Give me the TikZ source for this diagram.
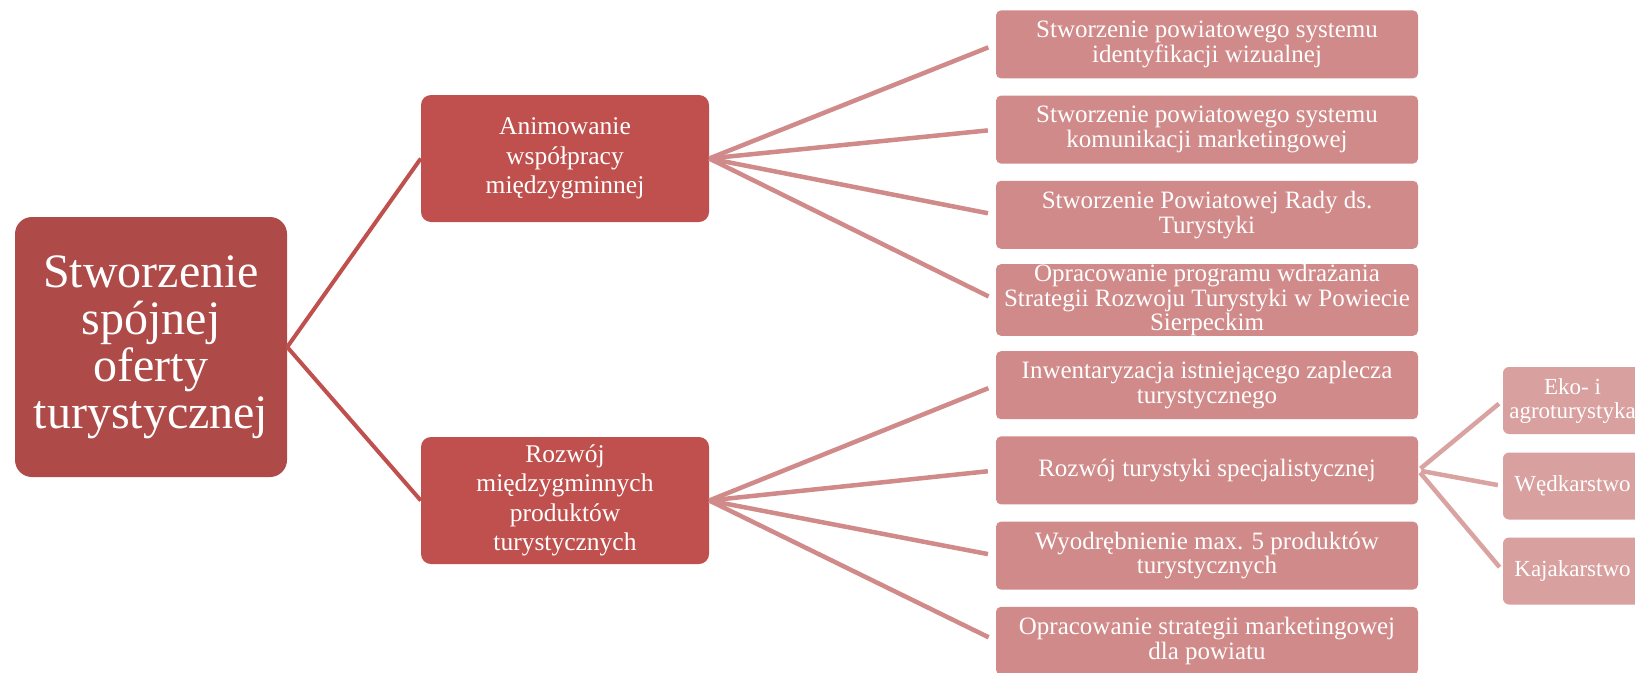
\documentclass[tikz,border=0pt]{standalone}
\usepackage{fontspec}
\setmainfont{Liberation Serif}
\definecolor{rootc}{HTML}{AE4A47}
\definecolor{lonec}{HTML}{C0504D}
\definecolor{ltwoc}{HTML}{D08A89}
\definecolor{lthreec}{HTML}{D8A09F}
\definecolor{edgeone}{HTML}{C0504D}
\definecolor{edgetwo}{HTML}{D08A89}
\definecolor{edgethree}{HTML}{D9A3A2}
\tikzset{
  rootbox/.style={fill=rootc, rounded corners=17pt, minimum width=272pt, minimum height=260pt, text=white, align=center, inner sep=0pt, font=\fontsize{48}{47}\selectfont},
  onebox/.style={fill=lonec, rounded corners=10pt, minimum width=288pt, minimum height=127pt, text=white, align=center, inner sep=0pt, font=\fontsize{25.5}{29.5}\selectfont},
  twobox/.style={fill=ltwoc, rounded corners=5pt, minimum width=422pt, minimum height=68pt, text=white, align=center, inner sep=0pt, font=\fontsize{25}{24.5}\selectfont},
  threebox/.style={fill=lthreec, rounded corners=6pt, minimum width=139pt, minimum height=67pt, text=white, align=center, inner sep=0pt, font=\fontsize{23}{24}\selectfont},
  edgea/.style={draw=edgeone, line width=4pt},
  edgeb/.style={draw=edgetwo, line width=4.5pt, shorten >=8pt},
  edgec/.style={draw=edgethree, line width=4.5pt, shorten <=3pt, shorten >=5pt},
}
\begin{document}
\begin{tikzpicture}[x=1pt,y=-1pt]
\useasboundingbox (0,0) rectangle (1635,672);
\clip (0,0) rectangle (1635,672);
\node[rootbox] (root) at (151,347) {Stworzenie\\spójnej\\oferty\\turystycznej};
\node[onebox] (a) at (565,158.5) {Animowanie\\współpracy\\międzygminnej};
\node[onebox] (b) at (565,500.5) {Rozwój\\międzygminnych\\produktów\\turystycznych};
\node[twobox] (a1) at (1207,44.4) {Stworzenie powiatowego systemu\\identyfikacji wizualnej};
\node[twobox] (a2) at (1207,129.6) {Stworzenie powiatowego systemu\\komunikacji marketingowej};
\node[twobox] (a3) at (1207,214.8) {Stworzenie Powiatowej Rady ds.\\Turystyki};
\node[twobox] (a4) at (1207,300) {Opracowanie programu wdrażania\\Strategii Rozwoju Turystyki w Powiecie\\Sierpeckim};
\node[twobox] (b1) at (1207,385.2) {Inwentaryzacja istniejącego zaplecza\\turystycznego};
\node[twobox] (b2) at (1207,470.4) {Rozwój turystyki specjalistycznej};
\node[twobox] (b3) at (1207,555.6) {Wyodrębnienie max. 5 produktów\\turystycznych};
\node[twobox] (b4) at (1207,640.8) {Opracowanie strategii marketingowej\\dla powiatu};
\node[threebox] (c1) at (1572.5,400.5) {Eko- i\\agroturystyka};
\node[threebox] (c2) at (1572.5,486) {Wędkarstwo};
\node[threebox] (c3) at (1572.5,571) {Kajakarstwo};
\draw[edgea] (root.east) -- (a.west);
\draw[edgea] (root.east) -- (b.west);
\foreach \t in {a1,a2,a3,a4} \draw[edgeb] (a.east) -- (\t.west);
\foreach \t in {b1,b2,b3,b4} \draw[edgeb] (b.east) -- (\t.west);
\foreach \t in {c1,c2,c3} \draw[edgec] (b2.east) -- (\t.west);
\end{tikzpicture}
\end{document}
